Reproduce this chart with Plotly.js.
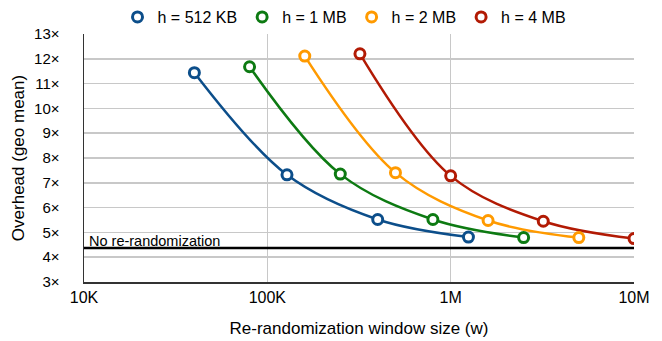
<!DOCTYPE html>
<html>
<head>
<meta charset="utf-8">
<script src="https://cdn.plot.ly/plotly-3.0.1.min.js"></script>
<style>html,body{margin:0;padding:0;background:#fff;}#chart{width:662px;height:341px;}</style>
</head>
<body>
<div id="chart"></div>
<script>
const seriesNames = ['h = 512 KB', 'h = 1 MB', 'h = 2 MB', 'h = 4 MB'];
const x512K = [40000, 128000, 400000, 1250000];
const y512K = [11.44, 7.32, 5.52, 4.81];
const x1M = [80000, 250000, 800000, 2500000];
const y1M = [11.68, 7.35, 5.52, 4.79];
const x2M = [160000, 500000, 1600000, 5000000];
const y2M = [12.11, 7.41, 5.48, 4.79];
const x4M = [320000, 1000000, 3200000, 10000000];
const y4M = [12.2, 7.28, 5.45, 4.75];
const baselineX = [10000, 10000000];
const baselineY = [4.37, 4.37];
const baselineLabel = 'No re-randomization';
const xTickVals = [10000, 100000, 1000000, 10000000];
const xTickText = ['10K', '100K', '1M', '10M'];
const yTickVals = [3, 4, 5, 6, 7, 8, 9, 10, 11, 12, 13];
const yTickText = yTickVals.map(v => v + '×');

const colors = ['#0c4e8a', '#0d7a12', '#ff9a00', '#b21a04'];
const xs = [x512K, x1M, x2M, x4M];
const ys = [y512K, y1M, y2M, y4M];

const traces = [];
traces.push({
  x: baselineX, y: baselineY, type: 'scatter', mode: 'lines', showlegend: false,
  line: {color: '#000', width: 2.5}, hoverinfo: 'skip'
});
xs.forEach((x, i) => {
  traces.push({
    x: x, y: ys[i], type: 'scatter', mode: 'lines', showlegend: false,
    line: {color: colors[i], width: 2.5, shape: 'spline', smoothing: 1}
  });
});
xs.forEach((x, i) => {
  traces.push({
    x: x, y: ys[i], name: seriesNames[i], type: 'scatter', mode: 'markers',
    marker: {symbol: 'circle', size: 10, color: '#fff', line: {color: colors[i], width: 3}}
  });
});

const font = 'Liberation Sans, Arial, Helvetica, sans-serif';
const layout = {
  width: 662, height: 341,
  margin: {l: 84, r: 28, t: 33, b: 59},
  paper_bgcolor: '#fff', plot_bgcolor: '#fff',
  font: {family: font, size: 14, color: '#000'},
  showlegend: true,
  legend: {orientation: 'h', x: 0.1775, xref: 'container', xanchor: 'left',
           y: 1, yref: 'container', yanchor: 'top',
           font: {family: font, size: 16}, itemwidth: 30, tracegroupgap: 0},
  xaxis: {type: 'log', range: [4, 7], tickvals: xTickVals, ticktext: xTickText,
          showgrid: true, gridcolor: '#c8c8c8', gridwidth: 1.5,
          showline: true, linecolor: '#333', linewidth: 1.5, ticks: '', zeroline: false,
          tickfont: {family: font, size: 16},
          title: {text: 'Re-randomization window size (w)', font: {family: font, size: 17}, standoff: 17}},
  yaxis: {range: [3, 13], tickvals: yTickVals, ticktext: yTickText,
          showgrid: true, gridcolor: '#c8c8c8', gridwidth: 1.5,
          showline: true, linecolor: '#333', linewidth: 1.5, ticks: '', zeroline: false,
          ticklabelstandoff: 20,
          tickfont: {family: font, size: 15},
          title: {text: 'Overhead (geo mean)', font: {family: font, size: 17}, standoff: 5}},
  annotations: [{x: 4.015, y: baselineY[0], xref: 'x', yref: 'y', text: baselineLabel,
                 showarrow: false, xanchor: 'left', yanchor: 'bottom', yshift: -3,
                 font: {family: font, size: 14.5, color: '#000'}}]
};
Plotly.newPlot('chart', traces, layout, {displayModeBar: false, staticPlot: true});
</script>
</body>
</html>
